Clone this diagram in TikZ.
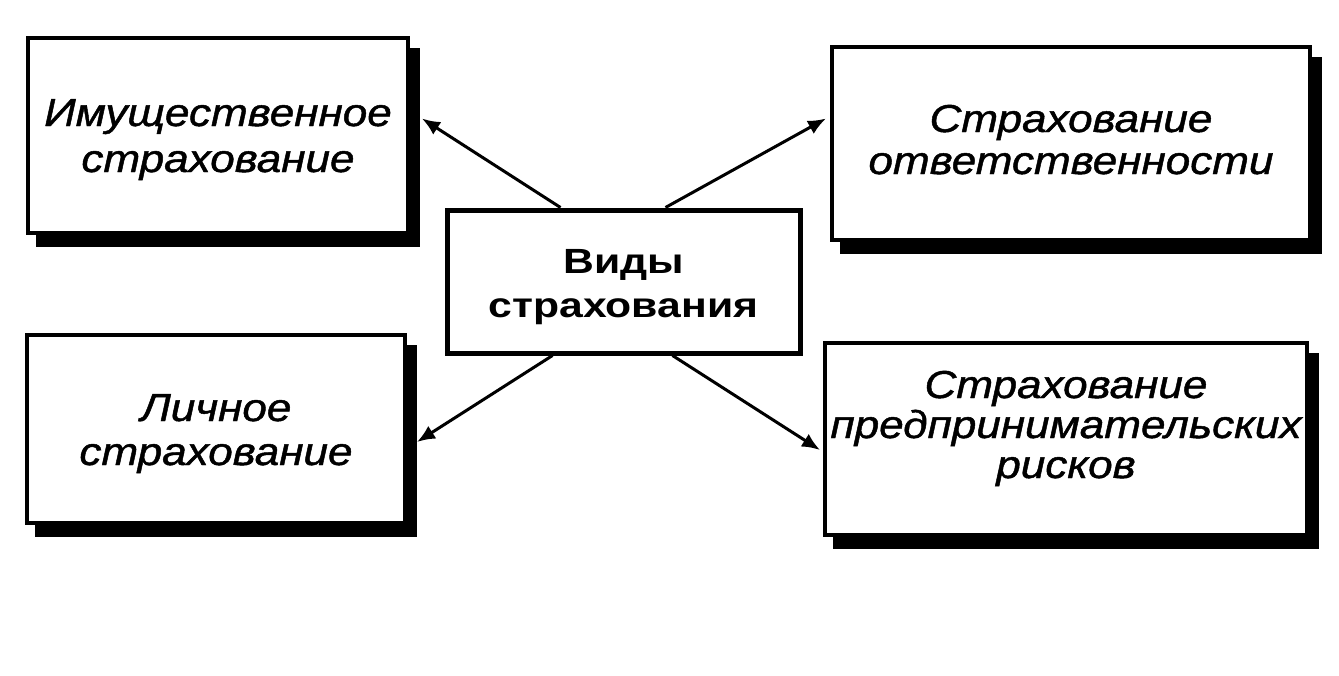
\documentclass[tikz,border=0pt]{standalone}
\usepackage{fontspec}
\newfontfamily\centfont[FakeStretch=1.22]{Liberation Sans}
\newfontfamily\sidefont[FakeStretch=1.13, FakeBold=1.2]{Liberation Sans}
\usetikzlibrary{arrows.meta}
\begin{document}
\begin{tikzpicture}[x=1pt,y=-1pt,
  sidebox/.style={draw=black, line width=4pt, fill=white, align=center,
    font=\sidefont\itshape\fontsize{39}{#1}\selectfont, inner sep=0pt},
  sidebox/.default=45,
  centbox/.style={draw=black, line width=5pt, fill=white, align=center,
    font=\centfont\bfseries\fontsize{35}{44}\selectfont, inner sep=0pt},
  shadowed/.style={preaction={fill=black, draw=black, line width=4pt, transform canvas={xshift=10pt,yshift=-12pt}}},
  arr/.style={line width=3pt, -{Latex[length=18pt,width=15pt]}}]
\useasboundingbox (0,0) rectangle (1339,675);
\fill[white] (0,0) rectangle (1339,675);
\node[sidebox=46, shadowed, minimum width=380pt, minimum height=195pt,
  text height=103pt, text depth=30pt] (b1) at (218,135.5)
  {Имущественное\\страхование};
\node[sidebox=42, shadowed, minimum width=478pt, minimum height=193pt,
  text height=91pt, text depth=30pt] (b2) at (1071,143.5)
  {Страхование\\ответственности};
\node[sidebox=40, shadowed, minimum width=482pt, minimum height=192pt,
  text height=108pt, text depth=30pt] (b3) at (1066,439)
  {Страхование\\предпринимательских\\рисков};
\node[sidebox=44, shadowed, minimum width=378pt, minimum height=188pt,
  text height=102pt, text depth=30pt] (b4) at (216,429)
  {Личное\\страхование};
\node[centbox, minimum width=353pt, minimum height=143pt,
  text height=101pt, text depth=30pt] (c) at (623.5,281.5)
  {Виды\\страхования};
\draw[arr] ([xshift=116pt]c.north west) -- ([xshift=12pt,yshift=17pt]b1.east);
\draw[arr] ([xshift=221pt]c.north west) -- ([xshift=-4pt,yshift=25pt]b2.west);
\draw[arr] ([xshift=108pt]c.south west) -- ([xshift=10pt,yshift=-13pt]b4.east);
\draw[arr] ([xshift=228pt]c.south west) -- ([xshift=-3pt,yshift=-11pt]b3.west);
\end{tikzpicture}
\end{document}
